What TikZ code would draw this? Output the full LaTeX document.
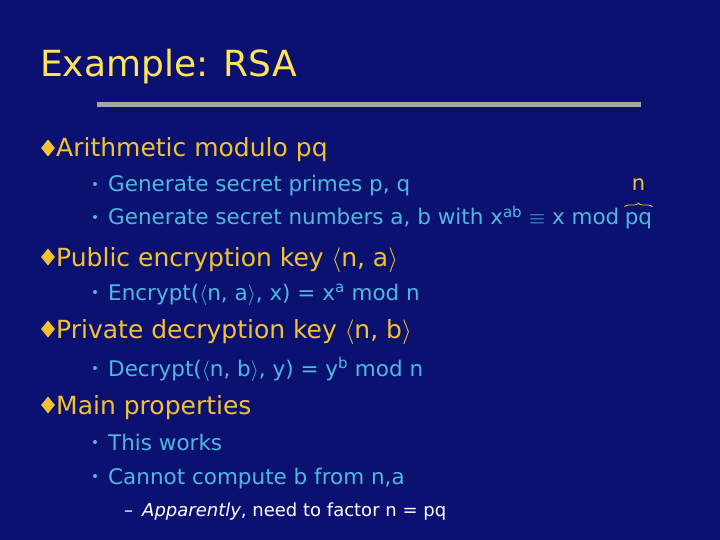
\documentclass[tikz,border=0pt]{standalone}
\usepackage{fontspec}
\setmainfont{DejaVu Sans}
\usetikzlibrary{shapes.geometric,decorations.pathreplacing}
\definecolor{bg}{HTML}{0B1170}
\definecolor{ttl}{HTML}{FFE35A}
\definecolor{lone}{HTML}{F2C233}
\definecolor{ltwo}{HTML}{4FB8DE}
\tikzset{
 ttlstyle/.style={anchor=base west,text=ttl,font=\fontsize{36}{40}\selectfont,inner sep=0},
 lonestyle/.style={anchor=base west,text=lone,font=\fontsize{25}{30}\selectfont,inner sep=0},
 ltwostyle/.style={anchor=base west,text=ltwo,font=\fontsize{21.5}{24}\selectfont,inner sep=0},
 lthreestyle/.style={anchor=base west,text=white,font=\fontsize{18}{22}\selectfont,inner sep=0},
 dia/.style={diamond,fill=lone,inner sep=0,minimum width=14pt,minimum height=17pt},
 dot/.style={circle,fill=ltwo,inner sep=0,minimum size=4pt},
}
\begin{document}
\begin{tikzpicture}[x=1pt,y=-1pt]
\fill[bg] (0,0) rectangle (720,540);
\useasboundingbox (0,0) rectangle (720,540);
\node[ttlstyle] (title) at (40,77) {Example: RSA};
\fill[gray!70] (97,102) rectangle (641,107);
\node[dia] (d1) at (48,148) {};
\node[lonestyle] (l1) at (56,157) {Arithmetic modulo pq};
\node[dot] (b1) at (95,184) {};
\node[ltwostyle] (t1) at (108,192) {Generate secret primes p, q};
\node[dot] (b2) at (95,217) {};
\node[ltwostyle] (t2) at (108,225) {Generate secret numbers a, b with x\textsuperscript{ab} $\equiv$ x mod};
\node[ltwostyle,anchor=base west] (pq) at ([xshift=5pt]t2.base east) {pq};
\draw[lone,line width=0.8pt,decorate,decoration={brace,amplitude=4pt}] ([yshift=18pt]pq.base west) -- ([yshift=18pt]pq.base east);
\node[anchor=base,text=lone,font=\fontsize{21}{24}\selectfont,inner sep=0] (n) at ([yshift=34pt]pq.base) {n};
\node[dia] (d2) at (48,257) {};
\node[lonestyle] (l2) at (56,266) {Public encryption key $\langle$n, a$\rangle$};
\node[dot] (b3) at (95,292) {};
\node[ltwostyle] (t3) at (108,300) {Encrypt($\langle$n, a$\rangle$, x) = x\textsuperscript{a} mod n};
\node[dia] (d3) at (48,329) {};
\node[lonestyle] (l3) at (56,338) {Private decryption key $\langle$n, b$\rangle$};
\node[dot] (b4) at (95,368) {};
\node[ltwostyle] (t4) at (108,376) {Decrypt($\langle$n, b$\rangle$, y) = y\textsuperscript{b} mod n};
\node[dia] (d4) at (48,405) {};
\node[lonestyle] (l4) at (56,414) {Main properties};
\node[dot] (b5) at (95,442) {};
\node[ltwostyle] (t5) at (108,450) {This works};
\node[dot] (b6) at (95,476) {};
\node[ltwostyle] (t6) at (108,484) {Cannot compute b from n,a};
\node[lthreestyle] (dash) at (124,516) {--};
\node[lthreestyle] (t7) at (142,516) {\textit{Apparently}, need to factor n = pq};
\end{tikzpicture}
\end{document}
